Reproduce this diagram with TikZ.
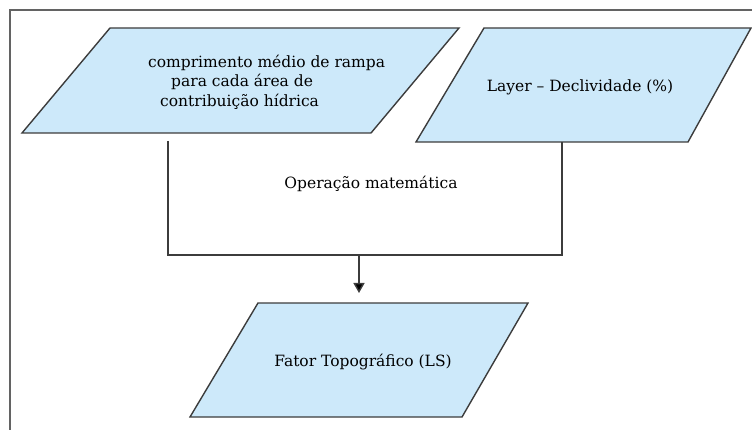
\documentclass[tikz,border=0pt]{standalone}
\usepackage{fontspec}
\setmainfont{DejaVu Serif}
\usetikzlibrary{arrows.meta}
\definecolor{boxblue}{RGB}{205,233,250}
\definecolor{linegray}{RGB}{60,60,60}
\begin{document}
\begin{tikzpicture}[x=1pt,y=-1pt,
    data/.style={draw=linegray, line width=1.4pt, fill=boxblue, line join=miter},
    label/.style={text=black, font=\fontsize{15.5}{19.5}\selectfont},
    link/.style={draw=linegray, line width=1.4pt},
    frame/.style={draw=linegray!80, line width=1.4pt}]
    \useasboundingbox (0,0) rectangle (752,430);
    \draw[frame] (10,460) |- (780,10);

    % input layers
    \draw[data] (22,133) -- (371,133) -- (459,28) -- (110,28) -- cycle;
    \draw[data] (416,142) -- (688,142) -- (751,28) -- (484,28) -- cycle;
    % result
    \draw[data] (190,417) -- (462,417) -- (528,303) -- (258,303) -- cycle;

    \node[label, align=left, anchor=west, inner sep=0pt] (rampa) at (148,82) {comprimento médio de rampa\\\hspace*{23pt}para cada área de\\\hspace*{12pt}contribuição hídrica};
    \node[label] (decl) at (580,87) {Layer -- Declividade (\%)};
    \node[label] (op) at (371,184) {Operação matemática};
    \node[label] (ls) at (363,362) {Fator Topográfico (LS)};

    \coordinate (a) at (168,141);
    \coordinate (b) at (562,142);
    \coordinate (m) at (359,255);
    \coordinate (t) at (359,293);
    \draw[link] (a) |- (b |- m) -- (b);
    \draw[link, -{Triangle[width=11pt,length=10pt,fill=black]}] (m) -- (t);
\end{tikzpicture}
\end{document}
